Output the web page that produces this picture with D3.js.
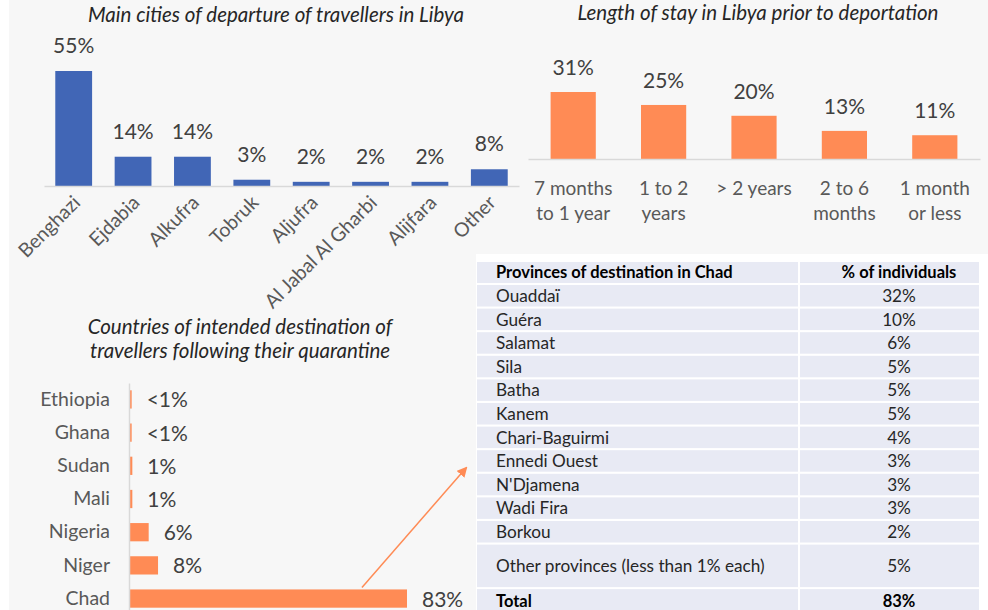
<!DOCTYPE html>
<html>
<head>
<meta charset="utf-8">
<script src="https://cdn.jsdelivr.net/npm/d3@7"></script>
<style>
  body { margin: 0; background: #fff; }
  svg { display: block; font-family: Lato, "Liberation Sans", sans-serif; }
</style>
</head>
<body>
<script>
var width = 988,
    height = 610;

// departure cities (top left)
var cities = ["Benghazi", "Ejdabia", "Alkufra", "Tobruk", "Aljufra", "Al Jabal Al Gharbi", "Alijfara", "Other"];
var cityShare = [55, 14, 14, 3, 2, 2, 2, 8];

// length of stay (top right)
var stayLabels = [["7 months", "to 1 year"], ["1 to 2", "years"], ["> 2 years"], ["2 to 6", "months"], ["1 month", "or less"]];
var stayShare = [31, 25, 20, 13, 11];

// intended destination (bottom left)
var countries = ["Ethiopia", "Ghana", "Sudan", "Mali", "Nigeria", "Niger", "Chad"];
var countryShare = [0.5, 0.5, 0.7, 0.7, 5.6, 8.4, 83];
var countryLabels = ["<1%", "<1%", "1%", "1%", "6%", "8%", "83%"];

// provinces table
var provinces = ["Ouaddaï", "Guéra", "Salamat", "Sila", "Batha", "Kanem", "Chari-Baguirmi",
                 "Ennedi Ouest", "N'Djamena", "Wadi Fira", "Borkou", "Other provinces (less than 1% each)"];
var provinceShare = ["32%", "10%", "6%", "5%", "5%", "5%", "4%", "3%", "3%", "3%", "2%", "5%"];
var provinceTotal = "83%";

var blue = "#4166b6",
    orange = "#ff8b55",
    axisGrey = "#d9d9d9",
    valueCol = "#404040",
    catCol = "#595959",
    titleCol = "#262626";

var svg = d3.select("body").append("svg")
    .attr("width", width)
    .attr("height", height);

svg.append("rect").attr("x", 9).attr("y", 0).attr("width", width - 9).attr("height", height).attr("fill", "#f7f7f7");
svg.append("rect").attr("x", 476).attr("y", 254).attr("width", width - 476).attr("height", height - 254).attr("fill", "#fff");

// ---------- chart 1 ----------
var g1 = svg.append("g");
var x1 = d3.scaleBand().domain(cities).range([44, 519]).paddingInner(0.38).paddingOuter(0.19);
var y1 = d3.scaleLinear().domain([0, 55]).range([186, 71]);

g1.append("text")
    .attr("x", 276).attr("y", 22)
    .attr("text-anchor", "middle")
    .style("font-style", "italic").style("font-size", "20.5px").attr("fill", titleCol)
    .text("Main cities of departure of travellers in Libya");

g1.selectAll("rect.bar")
    .data(cityShare)
    .enter().append("rect")
    .attr("class", "bar")
    .attr("x", function(d, i){ return x1(cities[i]); })
    .attr("y", function(d){ return y1(d); })
    .attr("width", x1.bandwidth())
    .attr("height", function(d){ return y1(0) - y1(d); })
    .attr("fill", blue);

g1.selectAll("text.val")
    .data(cityShare)
    .enter().append("text")
    .attr("class", "val")
    .attr("x", function(d, i){ return x1(cities[i]) + x1.bandwidth() / 2; })
    .attr("y", function(d){ return y1(d) - 18; })
    .attr("text-anchor", "middle")
    .style("font-size", "21px").attr("fill", valueCol)
    .text(function(d){ return d + "%"; });

var ax1 = g1.append("g")
    .attr("transform", "translate(0," + y1(0) + ")")
    .call(d3.axisBottom(x1).tickSize(0).tickSizeOuter(0));
ax1.select(".domain").attr("stroke", axisGrey).attr("stroke-width", 1.5);
ax1.selectAll("text")
    .attr("x", 0).attr("y", 0).attr("dy", "0.35em")
    .attr("transform", "translate(3,13) rotate(-45)")
    .style("text-anchor", "end")
    .style("font-size", "19.5px").style("font-family", "Lato")
    .attr("fill", catCol);

// ---------- chart 2 ----------
var g2 = svg.append("g");
var x2 = d3.scaleBand().domain(d3.range(stayShare.length)).range([528, 980]).paddingInner(0.5).paddingOuter(0.25);
var y2 = d3.scaleLinear().domain([0, 31]).range([159, 92]);

g2.append("text")
    .attr("x", 758).attr("y", 20)
    .attr("text-anchor", "middle")
    .style("font-style", "italic").style("font-size", "20.5px").attr("fill", titleCol)
    .text("Length of stay in Libya prior to deportation");

g2.selectAll("rect.bar")
    .data(stayShare)
    .enter().append("rect")
    .attr("class", "bar")
    .attr("x", function(d, i){ return x2(i); })
    .attr("y", function(d){ return y2(d); })
    .attr("width", x2.bandwidth())
    .attr("height", function(d){ return y2(0) - y2(d); })
    .attr("fill", orange);

g2.selectAll("text.val")
    .data(stayShare)
    .enter().append("text")
    .attr("class", "val")
    .attr("x", function(d, i){ return x2(i) + x2.bandwidth() / 2; })
    .attr("y", function(d){ return y2(d) - 17; })
    .attr("text-anchor", "middle")
    .style("font-size", "21px").attr("fill", valueCol)
    .text(function(d){ return d + "%"; });

var ax2 = g2.append("g")
    .attr("transform", "translate(0," + y2(0) + ")")
    .call(d3.axisBottom(x2).tickSize(0).tickSizeOuter(0).tickFormat(""));
ax2.select(".domain").attr("stroke", axisGrey).attr("stroke-width", 1.5);
ax2.selectAll(".tick text").each(function(d){
    var t = d3.select(this).attr("y", 0).attr("dy", null)
        .style("font-size", "19px").style("font-family", "Lato").attr("fill", catCol);
    stayLabels[d].forEach(function(line, k){
        t.append("tspan").attr("x", 0).attr("y", 36 + k * 25).text(line);
    });
});

// ---------- chart 3 ----------
var g3 = svg.append("g");
var y3 = d3.scaleBand().domain(countries).range([383, 615]).paddingInner(0.45).paddingOuter(0.22);
var x3 = d3.scaleLinear().domain([0, 83]).range([130, 407]);

g3.append("text")
    .attr("x", 240).attr("text-anchor", "middle")
    .style("font-style", "italic").style("font-size", "20.5px").attr("fill", titleCol)
    .selectAll("tspan")
    .data(["Countries of intended destination of", "travellers following their quarantine"])
    .enter().append("tspan")
    .attr("x", 240)
    .attr("y", function(d, i){ return 334 + i * 24; })
    .text(function(d){ return d; });

g3.selectAll("rect.bar")
    .data(countryShare)
    .enter().append("rect")
    .attr("class", "bar")
    .attr("x", x3(0))
    .attr("y", function(d, i){ return y3(countries[i]); })
    .attr("width", function(d){ return x3(d) - x3(0); })
    .attr("height", y3.bandwidth())
    .attr("fill", orange);

g3.selectAll("text.val")
    .data(countryShare)
    .enter().append("text")
    .attr("class", "val")
    .attr("x", function(d){ return x3(d) + 15; })
    .attr("y", function(d, i){ return y3(countries[i]) + y3.bandwidth() / 2; })
    .attr("dy", "0.38em")
    .style("font-size", "21px").attr("fill", valueCol)
    .text(function(d, i){ return countryLabels[i]; });

var ax3 = g3.append("g")
    .attr("transform", "translate(" + (x3(0) - 1) + ",0)")
    .call(d3.axisLeft(y3).tickSize(0).tickSizeOuter(0).tickPadding(19));
ax3.select(".domain").attr("stroke", axisGrey).attr("stroke-width", 1.5);
ax3.selectAll("text")
    .style("font-size", "19.5px").style("font-family", "Lato").attr("fill", catCol);

// arrow from Chad bar to the table
svg.append("defs").append("marker")
    .attr("id", "head")
    .attr("viewBox", "0 0 10 10")
    .attr("refX", 8).attr("refY", 5)
    .attr("markerWidth", 7).attr("markerHeight", 7)
    .attr("orient", "auto")
    .append("path").attr("d", "M0,0 L10,5 L0,10 Z").attr("fill", orange);

svg.append("path")
    .datum([[x3(69.5), y3("Chad") - 2], [466, 468]])
    .attr("d", d3.line())
    .attr("stroke", orange).attr("stroke-width", 1.5).attr("fill", "none")
    .attr("marker-end", "url(#head)");

// ---------- table ----------
var tg = svg.append("g");
var colL = [477, 798], colR = [800, 979];
var rowTop = [262], rowH = [21];
var step = 23.6;
provinces.forEach(function(p, i){
    rowTop.push(285 + i * step);
    rowH.push(i == provinces.length - 1 ? 42.5 : 21.5);
});
var last = rowTop.length - 1;
rowTop.push(rowTop[last] + rowH[last] + 2);
rowH.push(24);

var rows = [["Provinces of destination in Chad", "% of individuals"]]
    .concat(provinces.map(function(p, i){ return [p, provinceShare[i]]; }))
    .concat([["Total", provinceTotal]]);

var tr = tg.selectAll("g.row")
    .data(rows)
    .enter().append("g")
    .attr("class", "row");

tr.append("rect")
    .attr("x", colL[0]).attr("width", colL[1] - colL[0])
    .attr("y", function(d, i){ return rowTop[i]; })
    .attr("height", function(d, i){ return rowH[i]; })
    .attr("fill", "#e8eaf4");
tr.append("rect")
    .attr("x", colR[0]).attr("width", colR[1] - colR[0])
    .attr("y", function(d, i){ return rowTop[i]; })
    .attr("height", function(d, i){ return rowH[i]; })
    .attr("fill", "#e8eaf4");

var bold = function(i){ return i == 0 || i == rows.length - 1; };
tr.selectAll("text")
    .data(function(d, i){ return d.map(function(s, c){ return {s: s, c: c, i: i}; }); })
    .enter().append("text")
    .attr("x", function(d){ return d.c == 0 ? 496 : 899; })
    .attr("text-anchor", function(d){ return d.c == 0 ? "start" : "middle"; })
    .attr("y", function(d){ return rowTop[d.i] + Math.min(rowH[d.i], 42.5) / 2; })
    .attr("dy", "0.36em")
    .style("font-size", function(d){ return bold(d.i) ? "16.5px" : "17.2px"; })
    .style("font-weight", function(d){ return bold(d.i) ? "bold" : "normal"; })
    .attr("fill", function(d){ return bold(d.i) ? "#000" : "#262626"; })
    .text(function(d){ return d.s; });
</script>
</body>
</html>
